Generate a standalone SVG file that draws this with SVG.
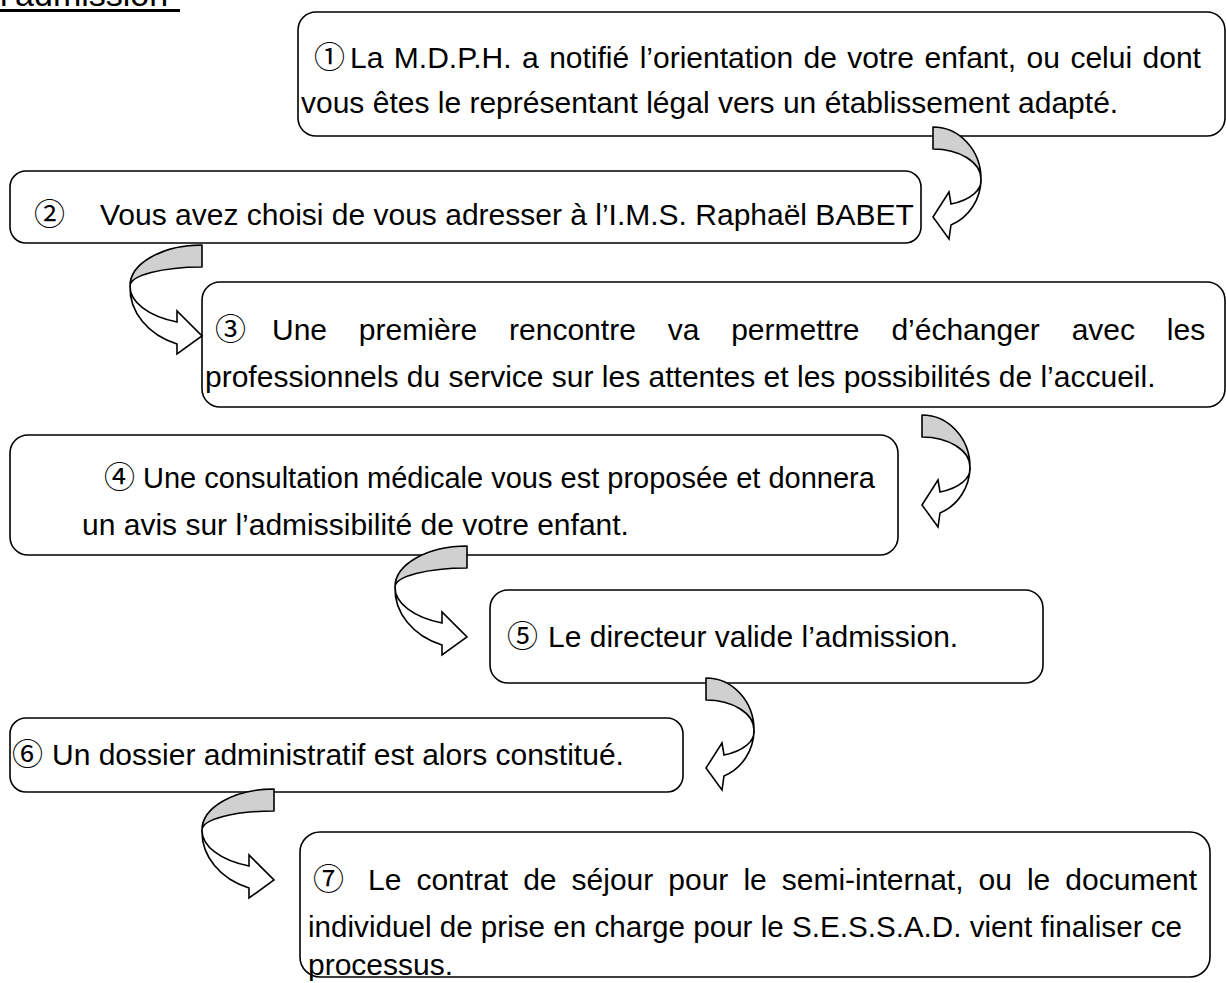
<svg xmlns="http://www.w3.org/2000/svg" width="1226" height="983" viewBox="0 0 1226 983">
<style>
.box{fill:#fff;stroke:#000;stroke-width:1.6}
.t{font-family:"Liberation Sans",Arial,sans-serif;font-size:30px;fill:#000}
.n{font-family:"Noto Sans CJK JP","Noto Sans CJK SC",sans-serif;font-size:31px;fill:#000}
.g{fill:#d0d0d0;stroke:#000;stroke-width:1.6;stroke-linejoin:round}
.w{fill:#fff;stroke:#000;stroke-width:1.6;stroke-linejoin:miter}
</style>
<defs>
<path id="rg" d="M0,0 A48,52 0 0 1 48,52 A48,30 0 0 0 0,22 Z"/>
<path id="rw" d="M48,52 A48,50 0 0 1 18,98 L16,112 L0,90 L16,65 L18,77 A48,25 0 0 0 48,52 Z"/>
<path id="lg" d="M0,0 A72,41 0 0 0 -72,41 A72,19 0 0 1 0,22 Z"/>
<path id="lw" d="M-72,41 A72,60 0 0 0 -25,99 L-25,109 L0,91 L-25,66 L-25,77 A72,38 0 0 1 -72,41 Z"/>
</defs>
<rect width="1226" height="983" fill="#fff"/>
<g id="title">
<text class="t" x="0" y="6" style="font-size:34px">l’admission</text>
<rect x="0" y="9" width="180" height="3" fill="#000"/>
</g>
<g id="node1">
<rect class="box" x="298" y="12" width="927" height="124" rx="18"/>
<text class="n" x="314" y="68">①</text>
<text class="t" x="350" y="68" word-spacing="2.1">La M.D.P.H. a notifié l’orientation de votre enfant, ou celui dont</text>
<text class="t" x="301" y="113">vous êtes le représentant légal vers un établissement adapté.</text>
</g>
<g id="node2">
<rect class="box" x="10" y="171" width="911" height="72" rx="16"/>
<text class="n" x="34" y="225">②</text>
<text class="t" x="100" y="225">Vous avez choisi de vous adresser à l’I.M.S. Raphaël BABET</text>
</g>
<g id="node3">
<rect class="box" x="202" y="282" width="1023" height="125" rx="18"/>
<text class="n" x="215" y="340">③</text>
<text class="t" x="272" y="340" word-spacing="23.5">Une première rencontre va permettre d’échanger avec les</text>
<text class="t" x="205" y="387">professionnels du service sur les attentes et les possibilités de l’accueil.</text>
</g>
<g id="node4">
<rect class="box" x="10" y="435" width="888" height="120" rx="18"/>
<text class="n" x="104" y="488">④</text>
<text class="t" x="143" y="488" style="font-size:29px">Une consultation médicale vous est proposée et donnera</text>
<text class="t" x="82" y="535">un avis sur l’admissibilité de votre enfant.</text>
</g>
<g id="node5">
<rect class="box" x="490" y="590" width="553" height="93" rx="18"/>
<text class="n" x="507" y="647">⑤</text>
<text class="t" x="548" y="647">Le directeur valide l’admission.</text>
</g>
<g id="node6">
<rect class="box" x="10" y="718" width="673" height="74" rx="16"/>
<text class="n" x="12" y="765">⑥</text>
<text class="t" x="52" y="765">Un dossier administratif est alors constitué.</text>
</g>
<g id="node7">
<rect class="box" x="300" y="832" width="910" height="145" rx="20"/>
<text class="n" x="313" y="890">⑦</text>
<text class="t" x="368" y="890" word-spacing="6.7">Le contrat de séjour pour le semi-internat, ou le document</text>
<text class="t" x="308" y="937" textLength="874" lengthAdjust="spacingAndGlyphs">individuel de prise en charge pour le S.E.S.S.A.D. vient finaliser ce</text>
<text class="t" x="308" y="975">processus.</text>
</g>
<g id="connectors">
<g transform="translate(933,127)"><use href="#rg" class="g"/><use href="#rw" class="w"/></g>
<g transform="translate(202,245)"><use href="#lg" class="g"/><use href="#lw" class="w"/></g>
<g transform="translate(922,415)"><use href="#rg" class="g"/><use href="#rw" class="w"/></g>
<g transform="translate(467,546)"><use href="#lg" class="g"/><use href="#lw" class="w"/></g>
<g transform="translate(706,678)"><use href="#rg" class="g"/><use href="#rw" class="w"/></g>
<g transform="translate(274,789)"><use href="#lg" class="g"/><use href="#lw" class="w"/></g>
</g>
</svg>
